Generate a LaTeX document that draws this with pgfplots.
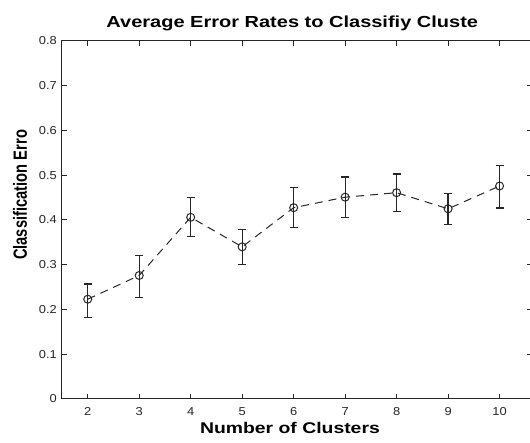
\documentclass[border=0pt]{standalone}
\usepackage{graphicx}
\usepackage{pgfplots}
\pgfplotsset{compat=1.18}
\usepackage{fontspec}
\setmainfont{Liberation Sans}
\newfontfamily\labfont[FakeStretch=1.25]{Liberation Sans}
\newfontfamily\tickfont[FakeStretch=1.12]{Liberation Sans}
\begin{document}
\begin{tikzpicture}[x=1pt,y=1pt]
\begin{axis}[
  scale only axis,
  width=470pt, height=358pt,
  xmin=1.5, xmax=10.63,
  ymin=0, ymax=0.8,
  xtick={2,3,4,5,6,7,8,9,10},
  ytick={0,0.1,0.2,0.3,0.4,0.5,0.6,0.7,0.8},
  yticklabels={0,0.1,0.2,0.3,0.4,0.5,0.6,0.7,0.8},
  tick align=inside, tick pos=both,
  major tick length=5pt,
  axis line style={line width=1pt, black!85},
  every tick/.style={line width=1pt, black!85},
  /pgf/number format/assume math mode=true,
  ticklabel style={font=\tickfont\fontsize{11.5}{11.5}\selectfont, text=black!85},
  yticklabel style={inner sep=0pt, xshift=-5pt},
  xticklabel style={inner sep=0pt, yshift=-8pt},
  every axis title shift=0pt,
  title={Average Error Rates to Classifiy Cluste},
  title style={font=\labfont\bfseries\fontsize{16}{16}\selectfont, at={(axis description cs:0.49,1.038)}, anchor=base, inner sep=0pt},
  xlabel={Number of Clusters},
  xlabel style={font=\labfont\bfseries\fontsize{15.5}{15.5}\selectfont, at={(axis description cs:0.485,-0.095)}, anchor=base, inner sep=0pt},
  ylabel={\scalebox{1}[1.3]{Classification Erro}},
  ylabel style={font=\bfseries\fontsize{14.7}{14.7}\selectfont, at={(axis description cs:-0.0745,0.57)}, anchor=base, rotate=0, inner sep=0pt},
  clip=false,
]
\addplot[black!85, line width=1pt, dash pattern=on 8pt off 6pt,
  mark=o, mark size=4pt, mark options={solid, line width=1pt},
  error bars/.cd, y dir=both, y explicit,
  error bar style={solid, line width=1.2pt, black!85},
  error mark options={rotate=90, mark size=4pt, line width=1.2pt, solid}]
coordinates {
  (2,0.223) += (0,0.034) -= (0,0.040)
  (3,0.276) += (0,0.045) -= (0,0.049)
  (4,0.406) += (0,0.044) -= (0,0.042)
  (5,0.340) += (0,0.038) -= (0,0.040)
  (6,0.4275) += (0,0.045) -= (0,0.044)
  (7,0.451) += (0,0.045) -= (0,0.046)
  (8,0.461) += (0,0.042) -= (0,0.042)
  (9,0.425) += (0,0.035) -= (0,0.035)
  (10,0.476) += (0,0.045) -= (0,0.049)
};
\coordinate (sw) at (rel axis cs:0,0);
\coordinate (ne) at (rel axis cs:1,1);
\end{axis}
\pgfresetboundingbox
\path[use as bounding box] ([xshift=-62pt,yshift=-44pt]sw) rectangle ([xshift=-2pt,yshift=41pt]ne);
\end{tikzpicture}
\end{document}
